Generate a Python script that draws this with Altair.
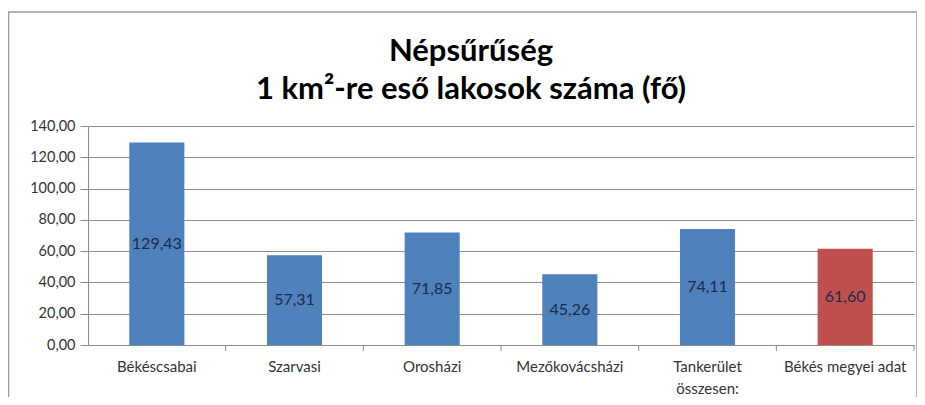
import altair as alt
import pandas as pd

categories = ["Békéscsabai", "Szarvasi", "Orosházi", "Mezőkovácsházi",
              "Tankerület összesen:", "Békés megyei adat"]
values = [129.43, 57.31, 71.85, 45.26, 74.11, 61.60]
colors = ["#4F81BD", "#4F81BD", "#4F81BD", "#4F81BD", "#4F81BD", "#C0504D"]
y_ticks = [0, 20, 40, 60, 80, 100, 120, 140]

df = pd.DataFrame({"cat": categories, "val": values, "col": colors})
df["half"] = df["val"] / 2
df["lbl"] = [f"{v:.2f}".replace(".", ",") for v in values]

FONT = "Lato"
W, H = 826, 219
STEP = W / 6.0
HALF_GAP = STEP * 0.3

xaxis = alt.Axis(labelAngle=0, ticks=False, domain=True, domainColor="#8c8c8c",
                 labelFont=FONT, labelFontSize=15, labelColor="#333333",
                 labelPadding=14, labelLineHeight=22, title=None,
                 labelExpr="datum.value == 'Tankerület összesen:' ? ['Tankerület', 'összesen:'] : datum.value")
yaxis = alt.Axis(values=y_ticks, grid=True, gridColor="#8c8c8c", gridWidth=1,
                 domainColor="#8c8c8c", tickColor="#8c8c8c", tickSize=8,
                 labelOverlap=False, title=None,
                 labelFont=FONT, labelFontSize=14.5, labelColor="#333333",
                 labelPadding=5,
                 labelExpr="replace(format(datum.value, '.2f'), '.', ',')")

xscale = alt.Scale(domain=categories, paddingInner=0.6, paddingOuter=0.3)
yscale = alt.Scale(domain=[0, 140], nice=False)

bars = alt.Chart(df).mark_bar().encode(
    x=alt.X("cat:N", sort=categories, scale=xscale, axis=xaxis),
    y=alt.Y("val:Q", scale=yscale, axis=yaxis),
    color=alt.Color("col:N", scale=None),
)

text = alt.Chart(df).mark_text(font=FONT, fontSize=16, color="#1b2a4a").encode(
    x=alt.X("cat:N", sort=categories, scale=xscale, axis=xaxis),
    y=alt.Y("half:Q", scale=yscale, axis=yaxis),
    text="lbl:N",
)

xticks = alt.Chart(df).mark_rule(color="#8c8c8c", strokeWidth=1, xOffset=HALF_GAP).encode(
    x=alt.X("cat:N", sort=categories, bandPosition=1, scale=xscale, axis=xaxis),
    y=alt.value(H),
    y2=alt.value(H + 6),
)

frame = alt.Chart(df.head(1)).mark_rect(fill=None, stroke="#9a9a9a", strokeWidth=1.5).encode(
    x=alt.value(-79.5),
    x2=alt.value(W + 3),
    y=alt.value(-114),
    y2=alt.value(400),
)

chart = alt.layer(frame, bars, text, xticks).properties(
    width=W, height=H,
    title=alt.TitleParams(["Népsűrűség", "1 km²-re eső lakosok száma (fő)"],
                          font=FONT, fontSize=31, fontWeight="bold", color="#000000",
                          anchor="middle", frame="group", dx=-30, offset=-95,
                          lineHeight=38),
    autosize=alt.AutoSizeParams(type="none"),
    padding={"left": 80, "top": 118, "right": 3, "bottom": 52},
).configure_view(stroke=None)

chart.save("out.html", embed_options={"renderer": "svg", "actions": False})
